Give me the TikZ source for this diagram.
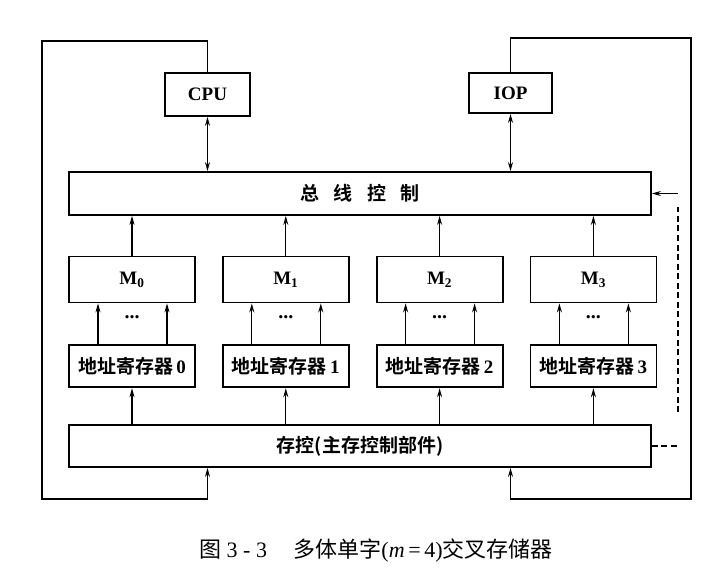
\documentclass[tikz,border=0pt]{standalone}
\usepackage{fontspec}
\setmainfont{Liberation Serif}
\newfontfamily\cjk{Noto Sans CJK SC}[BoldFont={Noto Sans CJK SC Bold}]
\usetikzlibrary{arrows.meta, positioning, calc}
\newcommand{\zh}[1]{{\cjk\bfseries #1}}

\begin{document}
\begin{tikzpicture}[
  x=1pt, y=-1pt,
  node distance=41pt and 26pt,
  unit/.style={draw, line width=1.8pt, align=center, inner sep=0pt,
    font=\bfseries\fontsize{19}{22}\selectfont},
  wide/.style={unit, minimum width=582pt, minimum height=43pt},
  bank/.style={unit, minimum width=126pt, minimum height=46pt},
  reg/.style={unit, minimum width=126pt, minimum height=42pt},
  arrow/.style={-{Stealth[length=9pt, width=5pt]}, line width=1.3pt},
  both/.style={{Stealth[length=9pt, width=5pt]}-{Stealth[length=9pt, width=5pt]}, line width=1.3pt},
  signal/.style={dash pattern=on 6pt off 3.5pt, line width=1.3pt},
  dots/.style={font=\bfseries\fontsize{20}{20}\selectfont}
]
\useasboundingbox (0,0) rectangle (720,572);

\node[unit, minimum width=85pt, minimum height=43pt] (cpu) at (207.5,94.5) {CPU};
\node[unit, minimum width=83pt, minimum height=40pt] (iop) at (510.5,93) {IOP};
\node[wide] (bus) at (360,193.5) {\zh{总\hspace{0.75em}线\hspace{0.75em}控\hspace{0.75em}制}};

\node[bank] (m0) at (132,279.5) {M$_{\mathbf 0}$};
\node[bank, right=of m0] (m1) {M$_{\mathbf 1}$};
\node[bank, right=of m1] (m2) {M$_{\mathbf 2}$};
\node[bank, right=of m2] (m3) {M$_{\mathbf 3}$};

\node[reg, below=of m0] (reg0) {\zh{地址寄存器}\,0};
\node[reg, below=of m1] (reg1) {\zh{地址寄存器}\,1};
\node[reg, below=of m2] (reg2) {\zh{地址寄存器}\,2};
\node[reg, below=of m3] (reg3) {\zh{地址寄存器}\,3};

\node[wide, minimum height=42pt] (ctrl) at (360,446) {\zh{存控(主存控制部件)}};

\coordinate (topleft) at (42,41);
\coordinate (botleft) at (42,499);
\coordinate (topright) at (691,38);
\coordinate (botright) at (691,499);

% CPU / IOP to bus and back round to ctrl
\draw[both] (cpu.south) -- (cpu.south |- bus.north);
\draw[both] (iop.south) -- (iop.south |- bus.north);
\draw[arrow] (cpu.north) |- (topleft) -- (botleft) -| (ctrl.south -| cpu.south);
\draw[arrow] (iop.north) |- (topright) -- (botright) -| (ctrl.south -| iop.south);

% banks
\draw[arrow] (m0.north) -- (m0.north |- bus.south);
\draw[arrow] (m1.north) -- (m1.north |- bus.south);
\draw[arrow] (m2.north) -- (m2.north |- bus.south);
\draw[arrow] (m3.north) -- (m3.north |- bus.south);

\draw[arrow] ([xshift=-34pt]reg0.north) -- ([xshift=-34pt]m0.south);
\draw[arrow] ([xshift=35pt]reg0.north) -- ([xshift=35pt]m0.south);
\draw[arrow] ([xshift=-34pt]reg1.north) -- ([xshift=-34pt]m1.south);
\draw[arrow] ([xshift=35pt]reg1.north) -- ([xshift=35pt]m1.south);
\draw[arrow] ([xshift=-34pt]reg2.north) -- ([xshift=-34pt]m2.south);
\draw[arrow] ([xshift=35pt]reg2.north) -- ([xshift=35pt]m2.south);
\draw[arrow] ([xshift=-34pt]reg3.north) -- ([xshift=-34pt]m3.south);
\draw[arrow] ([xshift=35pt]reg3.north) -- ([xshift=35pt]m3.south);

\node[dots] (dots0) at ($(m0.south)!0.5!(reg0.north)+(0,-7)$) {...};
\node[dots] (dots1) at ($(m1.south)!0.5!(reg1.north)+(0,-7)$) {...};
\node[dots] (dots2) at ($(m2.south)!0.5!(reg2.north)+(0,-7)$) {...};
\node[dots] (dots3) at ($(m3.south)!0.5!(reg3.north)+(0,-7)$) {...};

\draw[arrow] (ctrl.north -| reg0) -- (reg0.south);
\draw[arrow] (ctrl.north -| reg1) -- (reg1.south);
\draw[arrow] (ctrl.north -| reg2) -- (reg2.south);
\draw[arrow] (ctrl.north -| reg3) -- (reg3.south);

% ctrl signal back to bus
\coordinate (sigin) at (678,193.5);
\coordinate (sigup) at (678,207);
\coordinate (sigdown) at (678,412);
\coordinate (sigout) at (678,446);
\draw[signal] (ctrl.east) -- (sigout);
\draw[signal] (sigdown) -- (sigup);
\draw[arrow] (sigin) -- (bus.east);

\node[font=\fontsize{22}{26}\selectfont] (caption) at (376,550)
  {{\cjk 图} 3 - 3\hspace{1.2em}{\cjk 多体单字}({\itshape m}\,=\,4){\cjk 交叉存储器}};
\end{tikzpicture}
\end{document}
